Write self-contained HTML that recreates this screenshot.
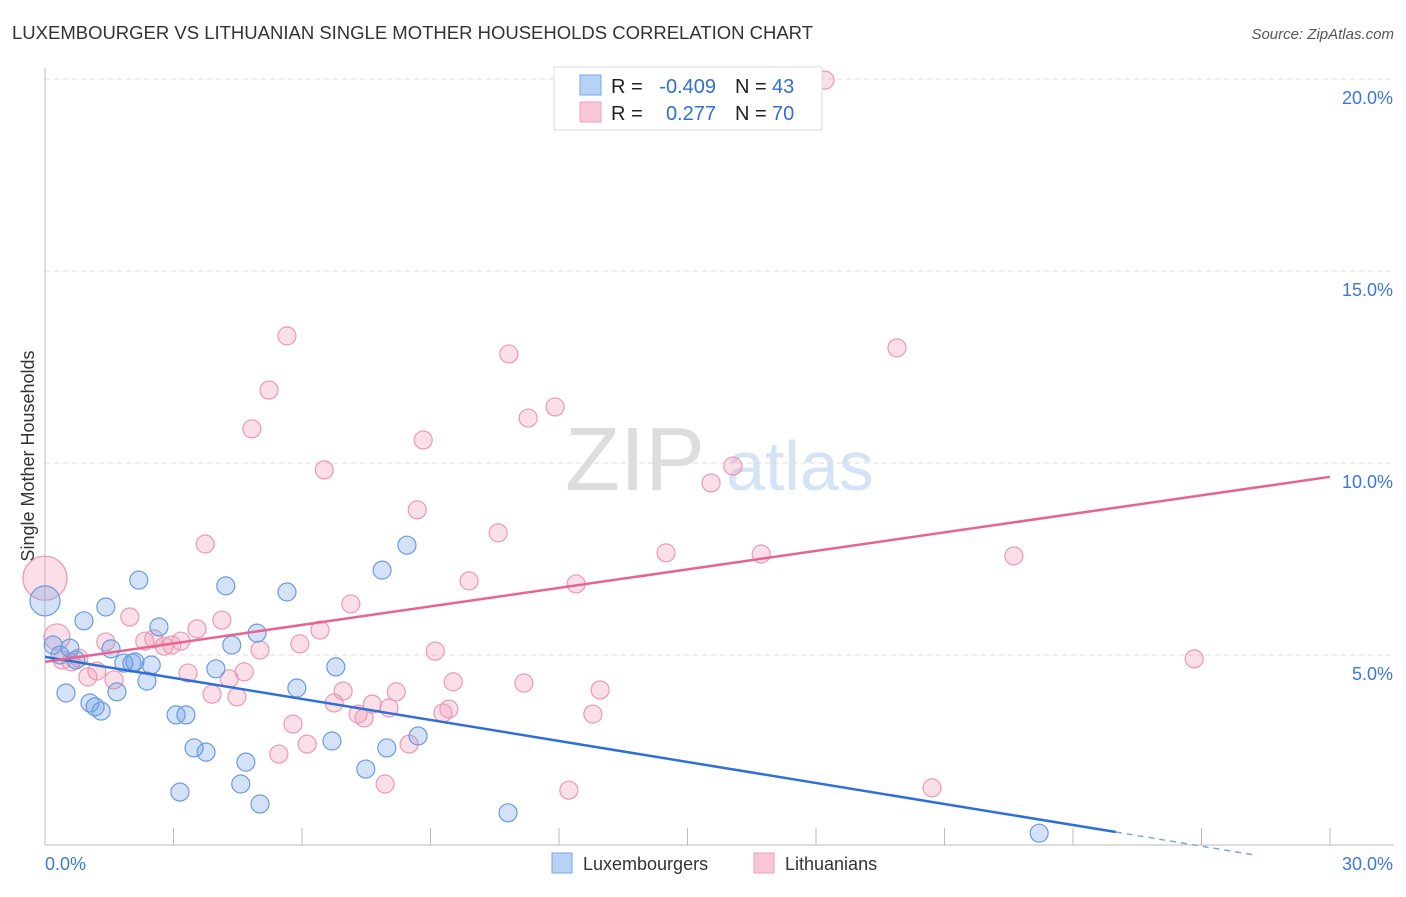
<!DOCTYPE html>
<html><head><meta charset="utf-8"><style>
body{margin:0;background:#fff;font-family:"Liberation Sans",sans-serif}
svg text{font-family:"Liberation Sans",sans-serif}
</style></head><body>
<svg id="c" width="1406" height="892">
<text x="12" y="39" font-size="18" fill="#333" textLength="801" lengthAdjust="spacingAndGlyphs">LUXEMBOURGER VS LITHUANIAN SINGLE MOTHER HOUSEHOLDS CORRELATION CHART</text>
<text x="1394" y="39" font-size="15" fill="#555" font-style="italic" text-anchor="end">Source: ZipAtlas.com</text>
<text x="34" y="456" font-size="18" fill="#333" text-anchor="middle" transform="rotate(-90 34 456)">Single Mother Households</text>
<g><text x="635" y="490" font-size="90" fill="#ddd" font-family="Liberation Serif" text-anchor="middle">ZIP</text><text x="800" y="490" font-size="70" fill="#d4e3f5" text-anchor="middle">atlas</text></g>
<g id="grid"></g><g id="pts"></g><g id="lines"></g>
<g>
<rect x="554" y="67" width="268" height="63" fill="#fff" stroke="#ddd"/>
<rect x="580" y="75" width="21" height="20" fill="#b8d2f5" stroke="#7aa6e6"/>
<rect x="580" y="102" width="21" height="20" fill="#f8c6d6" stroke="#eea2ba"/>
<text x="611" y="93" font-size="20" fill="#222">R =</text>
<text x="716" y="93" font-size="20" fill="#2f6fd6" text-anchor="end">-0.409</text>
<text x="735" y="93" font-size="20" fill="#222">N =</text>
<text x="772" y="93" font-size="20" fill="#2f6fd6">43</text>
<text x="611" y="120" font-size="20" fill="#222">R =</text>
<text x="716" y="120" font-size="20" fill="#2f6fd6" text-anchor="end">0.277</text>
<text x="735" y="120" font-size="20" fill="#222">N =</text>
<text x="772" y="120" font-size="20" fill="#2f6fd6">70</text>
</g>
<g>
<rect x="552" y="853" width="20" height="20" fill="#b8d2f5" stroke="#7aa6e6"/>
<text x="583" y="870" font-size="18" fill="#333">Luxembourgers</text>
<rect x="754" y="853" width="20" height="20" fill="#f8c6d6" stroke="#eea2ba"/>
<text x="785" y="870" font-size="18" fill="#333">Lithuanians</text>
</g>
</svg>
<script>
const yTicks=[5,10,15,20];
const yTickLabels=["5.0%","10.0%","15.0%","20.0%"];
const xTicks=[0,3,6,9,12,15,18,21,24,27,30];
const luxX=[0,0.19,0.35,0.49,0.58,0.72,0.91,1.05,1.17,1.31,1.42,1.54,1.68,1.84,2.03,2.10,2.19,2.38,2.48,2.66,3.06,3.15,3.29,3.48,3.76,3.99,4.22,4.36,4.57,4.69,4.95,5.02,5.65,5.88,6.70,6.79,7.49,7.87,7.98,8.45,8.71,10.81,23.21];
const luxY=[6.41,5.26,5.00,4.01,5.18,4.87,5.89,3.75,3.65,3.54,6.25,5.16,4.04,4.79,4.79,4.82,6.95,4.32,4.74,5.73,3.44,1.43,3.44,2.58,2.47,4.64,6.80,5.26,1.64,2.21,5.57,1.12,6.64,4.14,2.76,4.69,2.03,7.21,2.58,7.86,2.89,0.89,0.36];
const litX=[0,0.28,0.40,0.61,0.79,1.00,1.21,1.42,1.61,1.98,2.33,2.54,2.78,2.96,3.17,3.34,3.55,3.74,3.90,4.13,4.30,4.48,4.65,4.83,5.02,5.23,5.46,5.65,5.79,5.95,6.12,6.42,6.52,6.75,6.96,7.14,7.31,7.45,7.64,7.94,8.03,8.20,8.50,8.69,8.83,9.11,9.29,9.43,9.53,9.90,10.58,10.83,11.18,11.28,11.91,12.23,12.40,12.79,12.96,14.50,15.55,16.06,16.72,18.21,19.89,20.71,22.62,26.83];
const litY=[7.00,5.47,4.87,4.82,4.92,4.43,4.58,5.34,4.35,5.99,5.36,5.42,5.23,5.26,5.36,4.53,5.68,7.89,3.98,5.91,4.38,3.91,4.56,10.89,5.13,11.90,2.42,13.31,3.20,5.29,2.68,5.65,9.82,3.75,4.06,6.33,3.46,3.36,3.72,1.64,3.62,4.04,2.68,8.78,10.60,5.10,3.49,3.59,4.30,6.93,8.18,12.84,4.27,11.17,11.46,1.48,6.85,3.46,4.09,7.66,9.48,9.92,7.63,19.97,13.00,1.54,7.58,4.90];
const luxTrend=[[0,4.95],[25,0.39]];
const luxTrendDash=[[25,0.39],[28.2,-0.2]];
const litTrend=[[0,4.82],[30,9.64]];
const X=v=>45+v*1285/30, Y=v=>847-v*38.4;
const NS="http://www.w3.org/2000/svg";
function mk(p,t,a){const e=document.createElementNS(NS,t);for(const k in a)e.setAttribute(k,a[k]);p.appendChild(e);return e;}
const g=document.getElementById('grid');
yTicks.forEach((t,i)=>{
 const l=mk(g,'line',{x1:45,x2:1394,y1:Y(t),y2:Y(t),stroke:'#ddd','stroke-dasharray':'5,4'});
 
 
 const tx=mk(g,'text',{x:1393,y:Y(t)+25,'font-size':18,fill:'#3b78d8','text-anchor':'end'});tx.textContent=yTickLabels[i];
 
 
});
const ax=mk(g,'line',{x1:45,x2:45,y1:68,y2:845,stroke:'#bbb'});


const bx=mk(g,'line',{x1:45,x2:1394,y1:845,y2:845,stroke:'#bbb'});


xTicks.forEach(t=>{const l=mk(g,'line',{x1:X(t),x2:X(t),y1:828,y2:845,stroke:'#bbb'});
 
 });
const x0=mk(g,'text',{x:45,y:870,'font-size':18,fill:'#3b78d8'});x0.textContent='0.0%';


const x1=mk(g,'text',{x:1393,y:870,'font-size':18,fill:'#3b78d8','text-anchor':'end'});x1.textContent='30.0%';


const P=document.getElementById('pts');
litX.forEach((x,i)=>{const r=i==0?22:(i==1?13:9);
 const c=mk(P,'circle',{cx:X(x),cy:Y(litY[i]),r:r,fill:'rgba(242,150,180,0.3)',stroke:'#eb99b3','stroke-width':1.2});
 
 });
luxX.forEach((x,i)=>{const r=i==0?15:9;
 const c=mk(P,'circle',{cx:X(x),cy:Y(luxY[i]),r:r,fill:'rgba(110,160,230,0.3)',stroke:'#6b9be0','stroke-width':1.2});
 
 });
const Ln=document.getElementById('lines');
const a=mk(Ln,'line',{x1:X(luxTrend[0][0]),y1:Y(luxTrend[0][1]),x2:X(luxTrend[1][0]),y2:Y(luxTrend[1][1]),stroke:'#2f6fd6','stroke-width':2.5});


const ad=mk(Ln,'line',{x1:X(luxTrendDash[0][0]),y1:Y(luxTrendDash[0][1]),x2:X(luxTrendDash[1][0]),y2:Y(luxTrendDash[1][1]),stroke:'#7aa6e6','stroke-width':1.5,'stroke-dasharray':'6,5'});


const b=mk(Ln,'line',{x1:X(litTrend[0][0]),y1:Y(litTrend[0][1]),x2:X(litTrend[1][0]),y2:Y(litTrend[1][1]),stroke:'#e8648f','stroke-width':2.5});


</script>
</body></html>
